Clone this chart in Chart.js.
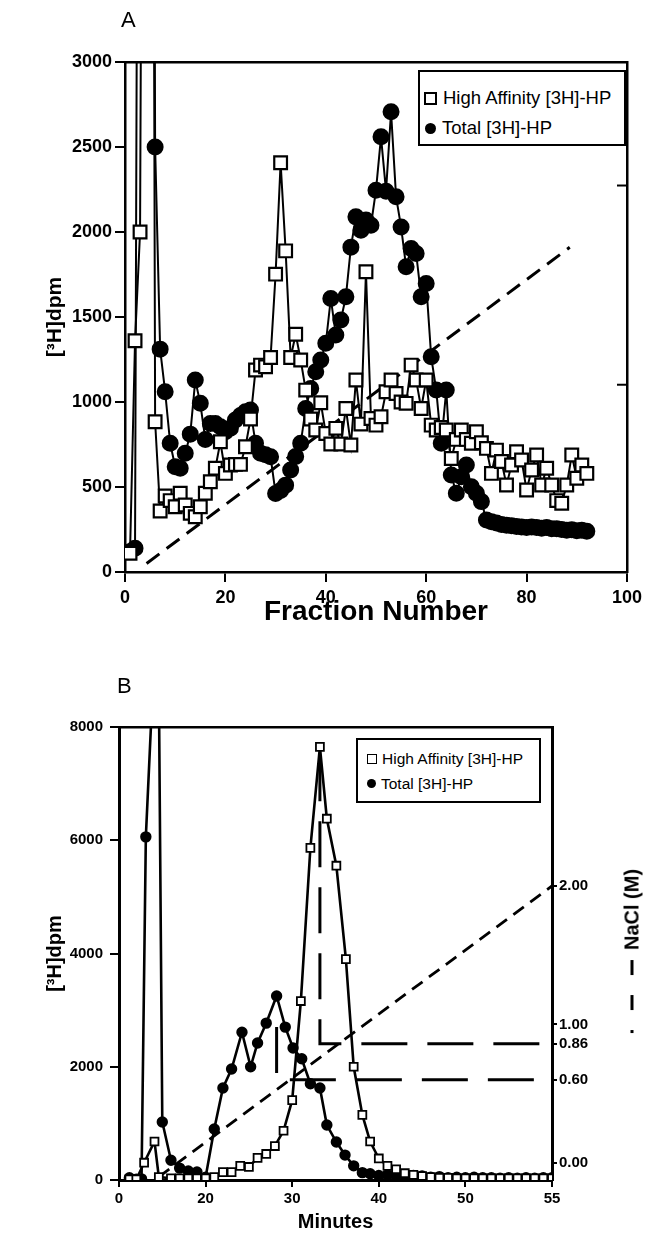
<!DOCTYPE html>
<html>
<head>
<meta charset="utf-8">
<script src="https://cdn.jsdelivr.net/npm/chart.js@4/dist/chart.umd.min.js"></script>
<style>
body { margin:0; background:#fff; width:647px; height:1234px; position:relative; overflow:hidden;
       font-family:'Liberation Sans', Arial, sans-serif; color:#000; }
.panel { position:absolute; left:0; width:647px; }
.tag { position:absolute; font-size:22px; line-height:22px; }
.legend { position:absolute; box-sizing:border-box; border:2.5px solid #000; background:#fff; }
.legend .row { position:absolute; white-space:nowrap; display:flex; align-items:center; }
.sq { display:inline-block; box-sizing:border-box; border:2px solid #000; background:#fff; }
.dot { display:inline-block; border-radius:50%; background:#000; }
#naclTitle { position:absolute; left:632px; top:951px; transform:translate(-50%,-50%) rotate(-90deg);
             display:flex; align-items:center; white-space:nowrap; font-weight:bold; font-size:20px; }
#naclTitle .nd { display:inline-block; width:3px; height:3.5px; background:#000; }
#naclTitle .nl { display:inline-block; width:15px; height:3.5px; background:#000; margin-left:20px; }
</style>
</head>
<body>
<div class="panel" style="top:0;height:640px"><canvas id="chartA" width="647" height="640"></canvas></div>
<div class="panel" style="top:640px;height:594px"><canvas id="chartB" width="647" height="594"></canvas></div>

<div class="tag" style="left:121px;top:9px">A</div>
<div class="tag" style="left:117px;top:675px">B</div>

<div class="legend" style="left:418px;top:70px;width:208px;height:76px;font-size:18.5px">
  <div class="row" style="left:4px;top:15px;height:22px"><span class="sq" style="width:13px;height:13px;margin-right:6px"></span>High Affinity [3H]-HP</div>
  <div class="row" style="left:5px;top:45px;height:22px"><span class="dot" style="width:11px;height:11px;margin-right:6px"></span>Total [3H]-HP</div>
</div>

<div class="legend" style="left:356px;top:738px;width:185px;height:65px;font-size:15.5px">
  <div class="row" style="left:9px;top:9px;height:19px"><span class="sq" style="width:10px;height:10px;border-width:1.6px;margin-right:5px"></span>High Affinity [3H]-HP</div>
  <div class="row" style="left:9px;top:34px;height:19px"><span class="dot" style="width:9px;height:9px;margin-right:5px"></span>Total [3H]-HP</div>
</div>

<div id="naclTitle"><span class="nd"></span><span class="nl"></span><span class="nl"></span><span style="margin-left:10px">NaCl (M)</span></div>

<script>
Chart.defaults.font.family = "'Liberation Sans', Arial, sans-serif";
Chart.defaults.color = '#000';

// ---- panel A : fraction number vs dpm ----
const fracA = [1,2,3,4,5,6,7,8,9,10,11,12,13,14,15,16,17,18,19,20,21,22,23,24,25,26,27,28,29,30,
  31,32,33,34,35,36,37,38,39,40,41,42,43,44,45,46,47,48,49,50,51,52,53,54,55,56,57,58,59,60,
  61,62,63,64,65,66,67,68,69,70,71,72,73,74,75,76,77,78,79,80,81,82,83,84,85,86,87,88,89,90,91,92];
const highA = [110,1360,2000,9000,12000,884,359,447,420,384,463,394,345,325,384,463,531,610,766,580,
  629,633,633,737,900,1188,1217,1207,1262,1752,2407,1889,1262,1399,1247,1070,900,835,996,815,
  753,845,753,962,747,1129,870,1766,903,864,913,1060,1129,1050,1000,992,1217,1129,962,1129,
  864,835,850,835,668,780,835,780,757,825,760,727,580,717,650,512,629,708,659,482,
  600,688,512,610,512,420,404,512,688,551,629,580];
const totalA = [120,140,9000,12000,12000,2500,1311,1060,757,619,610,698,811,1129,992,780,874,874,855,825,
  845,894,920,943,953,757,698,690,678,462,480,511,600,680,757,962,1080,1178,1247,1345,
  1609,1394,1482,1619,1911,2089,2010,2070,2040,2246,2560,2240,2707,2207,2030,1795,1903,1874,1619,1697,
  1266,1070,757,1070,570,463,560,629,502,463,414,306,296,288,280,275,272,268,265,262,
  265,262,258,262,255,255,250,245,248,242,245,240];
const gradFracA = [4.3, 88.6];
const gradDpmA = [50, 1910];
const naclTicksA = [1, 2];

// ---- panel B : minutes vs dpm ----
const hiMinB = [1.2,2,2.9,4.1,4.6,6,7,8,9,10,11,12,13,14,15,16,17,18,19,20,21,22.1,23.2,24,25.1,26.2,27.1,28.1,
  29,30,31,32,33,34,35,36,37,38,39,40,41,42,43,44,45,46,47,48,49,50];
const hiDpmB = [10,10,305,680,50,30,30,30,30,30,50,140,140,250,230,390,460,600,870,1410,3160,5865,7650,6380,5550,3900,2000,1150,
  680,380,250,190,120,90,70,50,40,40,30,30,30,30,30,30,30,30,30,30,30,30];
const totMinB = [1.2,2,2.6,3.1,4.5,5,6,7,8,9,10,11,12,13,14.2,15.2,16,17,18.2,19.2,20.1,21.1,22.1,23.2,24,25.1,26.1,27.1,28.1,
  29,30,31,32,33,34,35,36,37,38,39,40,41,42,43,44,45,46,47,48,49,50];
const totDpmB = [40,15,20,6060,10700,1025,350,210,160,140,50,900,1625,1960,2610,2000,2420,2770,3250,2700,2330,2140,1700,1625,970,670,440,250,130,
  110,80,90,70,90,80,70,50,60,40,50,40,50,40,40,30,40,30,40,30,40,40];
const gradMinB = [4.6, 50];
const gradNaClB = [-0.1, 2.0];
const minTickB = ['0','20','30','40','50','55'];
const naclTickB = [0, 0.6, 0.86, 1, 2];
const elutionMinB = [18.2, 23.2];
const elutionTopB = [2700, 7500];
const elutionNaClB = [0.60, 0.86];

const pts = (xs, ys) => xs.map((x, i) => ({x: x, y: ys[i]}));
const edge = { display: true, color: '#000', width: 2.5 };
const ticksGrid = len => ({ display: true, drawOnChartArea: false, color: '#000', lineWidth: 2, tickLength: len });
const plain = v => String(v);

// short tick marks pointing into the plot on the right axis
const innerTicks = {
  id: 'innerTicks',
  afterDraw(chart, args, opts) {
    const s = chart.scales[opts.axis];
    if (!s) return;
    const ctx = chart.ctx, r = chart.chartArea.right;
    ctx.save();
    ctx.strokeStyle = '#000';
    ctx.lineWidth = 2;
    s.ticks.forEach(t => {
      const y = s.getPixelForValue(t.value);
      ctx.beginPath(); ctx.moveTo(r, y); ctx.lineTo(r - opts.length, y); ctx.stroke();
    });
    ctx.restore();
  }
};

// peak -> NaCl elution markers (dashed L)
const elutionLines = {
  id: 'elutionLines',
  beforeDatasetsDraw(chart) {
    const {ctx, scales} = chart;
    ctx.save();
    ctx.strokeStyle = '#000';
    ctx.lineWidth = 3;
    ctx.setLineDash([46, 20]);
    elutionMinB.forEach((m, i) => {
      const px = scales.x.getPixelForValue(m);
      const ly = scales.yN.getPixelForValue(elutionNaClB[i]);
      ctx.beginPath();
      ctx.moveTo(px, scales.y.getPixelForValue(elutionTopB[i]));
      ctx.lineTo(px, ly);
      ctx.lineTo(chart.chartArea.right, ly);
      ctx.stroke();
    });
    ctx.restore();
  }
};

new Chart(document.getElementById('chartA'), {
  type: 'scatter',
  data: {
    datasets: [
      { data: pts(fracA, highA), showLine: true, borderColor: '#000', borderWidth: 2,
        pointStyle: 'rect', pointRadius: 9, pointBackgroundColor: '#fff', pointBorderColor: '#000', pointBorderWidth: 2.2 },
      { data: pts(fracA, totalA), showLine: true, borderColor: '#000', borderWidth: 2,
        pointStyle: 'circle', pointRadius: 7.5, pointBackgroundColor: '#000', pointBorderColor: '#000' },
      { data: pts(gradFracA, gradDpmA), showLine: true, borderColor: '#000', borderWidth: 3,
        borderDash: [16, 9], pointRadius: 0 }
    ]
  },
  options: {
    responsive: false,
    animation: false,
    layout: { padding: { top: 62 } },
    plugins: { legend: { display: false }, tooltip: { enabled: false }, innerTicks: { axis: 'yR', length: 10 } },
    scales: {
      x: {
        type: 'linear', position: 'bottom', min: 0, max: 100,
        ticks: { stepSize: 20, padding: 5, font: { size: 18, weight: 'bold' }, callback: plain },
        grid: ticksGrid(10), border: edge,
        title: { display: true, text: 'Fraction Number', font: { size: 28, weight: 'bold' }, padding: { top: 0, bottom: 11 } },
        afterFit: s => { s.height = 68; }
      },
      xTop: {
        type: 'linear', position: 'top', min: 0, max: 100,
        ticks: { display: false }, grid: { display: false }, border: edge,
        afterFit: s => { s.height = 0; }
      },
      y: {
        type: 'linear', position: 'left', min: 0, max: 3000,
        ticks: { stepSize: 500, padding: 3, font: { size: 18, weight: 'bold' }, callback: plain },
        grid: ticksGrid(10), border: edge,
        title: { display: true, text: '[³H]dpm', font: { size: 21, weight: 'bold' }, padding: { top: 43, bottom: 0 } },
        afterFit: s => { s.width = 125; }
      },
      yR: {
        type: 'linear', position: 'right', min: 0.06, max: 2.62,
        afterBuildTicks: s => { s.ticks = naclTicksA.map(v => ({ value: v })); },
        ticks: { display: false }, grid: { display: false }, border: edge,
        afterFit: s => { s.width = 14; }
      }
    }
  },
  plugins: [innerTicks]
});

new Chart(document.getElementById('chartB'), {
  type: 'scatter',
  data: {
    datasets: [
      { data: pts(hiMinB, hiDpmB), showLine: true, borderColor: '#000', borderWidth: 2.6,
        pointStyle: 'rect', pointRadius: 5.6, pointBackgroundColor: '#fff', pointBorderColor: '#000', pointBorderWidth: 1.8 },
      { data: pts(totMinB, totDpmB), showLine: true, borderColor: '#000', borderWidth: 2.6,
        pointStyle: 'circle', pointRadius: 4.4, pointBackgroundColor: '#000', pointBorderColor: '#000' },
      { data: pts(gradMinB, gradNaClB), yAxisID: 'yN', showLine: true, borderColor: '#000', borderWidth: 2.8,
        borderDash: [13, 8], pointRadius: 0 }
    ]
  },
  options: {
    responsive: false,
    animation: false,
    layout: { padding: { top: 87 } },
    plugins: { legend: { display: false }, tooltip: { enabled: false } },
    scales: {
      x: {
        type: 'linear', position: 'bottom', min: 0, max: 50,
        ticks: { stepSize: 10, padding: 3, font: { size: 15, weight: 'bold' },
                 callback: v => minTickB[Math.round(v / 10)] },
        grid: ticksGrid(7), border: { display: true, color: '#000', width: 3 },
        title: { display: true, text: 'Minutes', font: { size: 20, weight: 'bold' }, padding: { top: 0, bottom: 0 } },
        afterFit: s => { s.height = 54; }
      },
      xTop: {
        type: 'linear', position: 'top', min: 0, max: 50,
        ticks: { display: false }, grid: { display: false }, border: edge,
        afterFit: s => { s.height = 0; }
      },
      y: {
        type: 'linear', position: 'left', min: 0, max: 8000,
        ticks: { stepSize: 2000, padding: 7, font: { size: 15, weight: 'bold' }, callback: plain },
        grid: ticksGrid(9), border: { display: true, color: '#000', width: 3 },
        title: { display: true, text: '[³H]dpm', font: { size: 20, weight: 'bold' }, padding: { top: 43, bottom: 0 } },
        afterFit: s => { s.width = 119; }
      },
      yN: {
        type: 'linear', position: 'right', min: -0.123, max: 3.148,
        afterBuildTicks: s => { s.ticks = naclTickB.map(v => ({ value: v })); },
        ticks: { padding: 2, font: { size: 15, weight: 'bold' }, callback: v => v.toFixed(2) },
        grid: ticksGrid(5), border: { display: true, color: '#000', width: 3 },
        afterFit: s => { s.width = 95; }
      }
    }
  },
  plugins: [elutionLines]
});
</script>
</body>
</html>
